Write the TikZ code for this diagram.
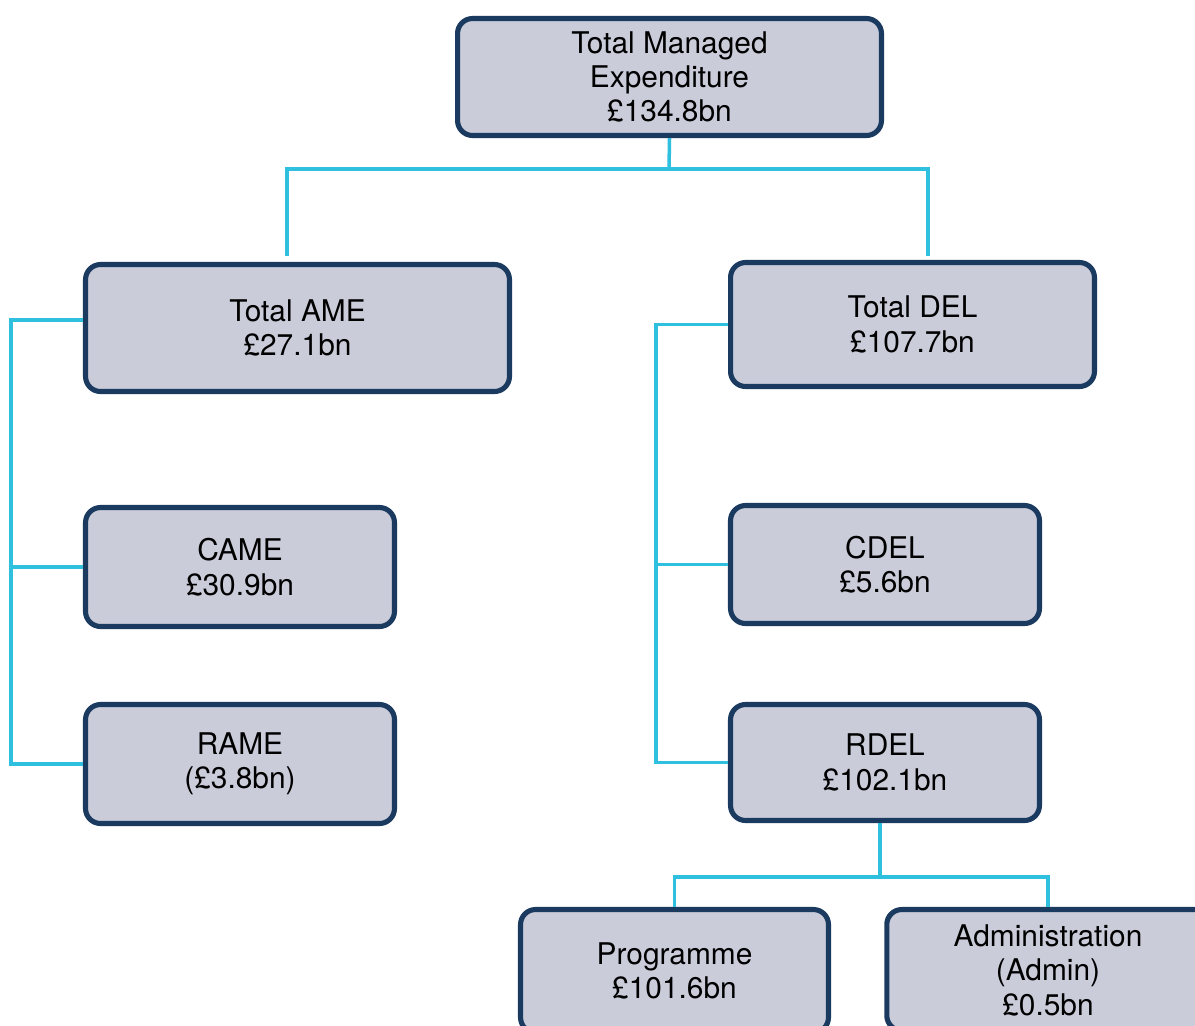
\documentclass[tikz,border=0pt]{standalone}
\usepackage{fontspec}
\setmainfont{TeX Gyre Heros}
\definecolor{box_fill}{HTML}{CACCDA}
\definecolor{box_edge}{HTML}{1B3A60}
\definecolor{link_cyan}{HTML}{2FBFDF}
\tikzset{
    budget_box/.style = {
        draw=box_edge,
        fill=box_fill,
        line width=2.9pt,
        rounded corners=0.3cm,
        align=center,
        inner sep=0pt,
        font=\fontsize{17}{19.6}\selectfont
    },
    link_line/.style = {
        draw=link_cyan,
        line width=2pt
    },
}
\begin{document}
\begin{tikzpicture}[x=0.02cm, y=-0.02cm]
    \useasboundingbox (0,0) rectangle (1195,1025);

    % boxes
    \node[budget_box, minimum width=8.48cm, minimum height=2.34cm] (tme) at (669.5,77) {Total Managed\\Expenditure\\£134.8bn};
    \node[budget_box, minimum width=8.48cm, minimum height=2.54cm] (ame) at (297.5,328) {Total AME\\£27.1bn};
    \node[budget_box, minimum width=7.28cm, minimum height=2.48cm] (del) at (912.5,324.5) {Total DEL\\£107.7bn};
    \node[budget_box, minimum width=6.18cm, minimum height=2.38cm] (came) at (240,567) {CAME\\£30.9bn};
    \node[budget_box, minimum width=6.18cm, minimum height=2.38cm] (rame) at (240,764) {RAME\\(£3.8bn)};
    \node[budget_box, minimum width=6.18cm, minimum height=2.36cm] (cdel) at (885,564.5) {CDEL\\£5.6bn};
    \node[budget_box, minimum width=6.18cm, minimum height=2.32cm] (rdel) at (885,762.5) {RDEL\\£102.1bn};
    \node[budget_box, minimum width=6.16cm, minimum height=2.46cm] (prog) at (674.5,971) {Programme\\£101.6bn};
    \node[budget_box, minimum width=6.45cm, minimum height=2.42cm] (admin) at (1048,970) {Administration\\(Admin)\\£0.5bn};

    % bus points
    \coordinate (top_bus) at (669,169);
    \coordinate (ame_in) at (287,256);
    \coordinate (del_in) at (928,256);
    \coordinate (ame_bus) at (11,320);
    \coordinate (del_bus) at (656,324.5);
    \coordinate (rdel_bus) at (880,877);
    \coordinate (admin_in) at (1048,907);

    % connectors
    \draw[link_line] (tme.south) -- (top_bus);
    \draw[link_line] (ame_in) |- (top_bus) -| (del_in);

    \draw[link_line] (ame.west |- ame_bus) -- (ame_bus) |- (rame.west);
    \draw[link_line] (ame_bus |- came.west) -- (came.west);

    \draw[link_line] (del.west) -- (del_bus) |- (rdel.west);
    \draw[link_line] (del_bus |- cdel.west) -- (cdel.west);

    \draw[link_line] (rdel.south -| rdel_bus) -- (rdel_bus);
    \draw[link_line] (prog.north) |- (rdel_bus) -| (admin_in);
\end{tikzpicture}
\end{document}
